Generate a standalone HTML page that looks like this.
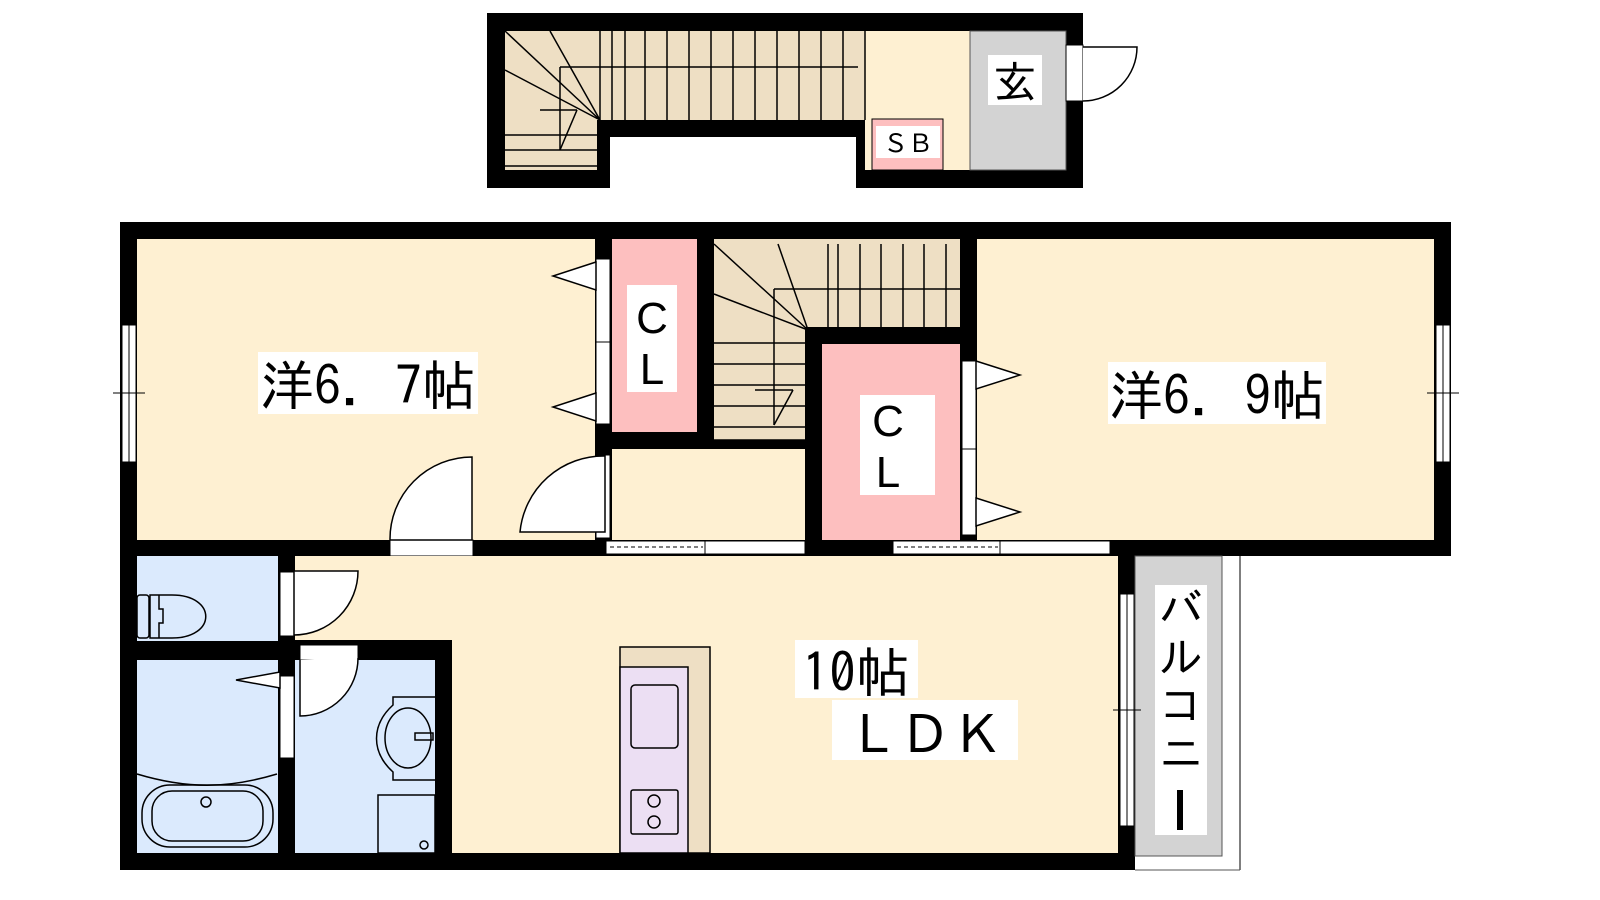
<!DOCTYPE html>
<html><head><meta charset="utf-8"><style>
html,body{margin:0;padding:0;background:#fff;width:1600px;height:900px;overflow:hidden}
svg{display:block}
text{font-family:"Liberation Sans","Noto Sans CJK JP",sans-serif;fill:#000}
.j{font-family:"IPAGothic","Noto Sans CJK JP",sans-serif}
</style></head><body>
<svg width="1600" height="900" viewBox="0 0 1600 900" xmlns="http://www.w3.org/2000/svg">
<!-- ===== TOP BLOCK ===== -->
<rect x="487" y="13" width="596" height="175" fill="#000"/>
<rect x="505" y="31" width="360" height="89" fill="#eedfc4"/>
<rect x="505" y="120" width="92" height="50" fill="#eedfc4"/>
<rect x="610" y="137" width="246" height="55" fill="#fff"/>
<rect x="865" y="31" width="105" height="139" fill="#fef0d2"/>
<rect x="872" y="119" width="71" height="51" fill="#fdbfbf" stroke="#000" stroke-width="1"/>
<rect x="970" y="31" width="96" height="139" fill="#d3d3d3" stroke="#555" stroke-width="1"/>
<g stroke="#000" stroke-width="1.5" fill="none">
<line x1="505" y1="31" x2="600" y2="120"/><line x1="550" y1="31" x2="600" y2="120"/><line x1="505" y1="70" x2="600" y2="120"/>
<line x1="560" y1="67" x2="858" y2="67"/><line x1="560" y1="67" x2="560" y2="150"/>
<line x1="540" y1="110" x2="577" y2="110"/><line x1="577" y1="110" x2="560" y2="150"/>
<line x1="505" y1="135" x2="597" y2="135"/><line x1="505" y1="150" x2="597" y2="150"/><line x1="505" y1="166" x2="597" y2="166"/>
<line x1="600" y1="31" x2="600" y2="120"/><line x1="612" y1="31" x2="612" y2="120"/>
<line x1="625" y1="31" x2="625" y2="120"/><line x1="645" y1="31" x2="645" y2="120"/><line x1="667" y1="31" x2="667" y2="120"/>
<line x1="689" y1="31" x2="689" y2="120"/><line x1="711" y1="31" x2="711" y2="120"/><line x1="733" y1="31" x2="733" y2="120"/>
<line x1="755" y1="31" x2="755" y2="120"/><line x1="777" y1="31" x2="777" y2="120"/><line x1="799" y1="31" x2="799" y2="120"/>
<line x1="821" y1="31" x2="821" y2="120"/><line x1="843" y1="31" x2="843" y2="120"/><line x1="865" y1="31" x2="865" y2="120"/>
</g>
<rect x="1066" y="45" width="17" height="56" fill="#fff" stroke="#000"/>
<path d="M1083 101 A54 54 0 0 0 1137 47 L1083 47" fill="#fff" stroke="#000" stroke-width="1.5"/>
<rect x="988" y="55" width="54" height="50" fill="#fff"/>
<text x="1015" y="98" font-size="44" text-anchor="middle" class="j">玄</text>
<rect x="876" y="126" width="64" height="32" fill="#fff"/>
<text x="908" y="152" font-size="25" text-anchor="middle">ＳＢ</text>

<!-- ===== MAIN BLOCK ===== -->
<rect x="120" y="222" width="1331" height="334" fill="#000"/>
<rect x="120" y="540" width="1015" height="330" fill="#000"/>
<rect x="137" y="239" width="458" height="301" fill="#fef0d2"/>
<rect x="612" y="239" width="85" height="193" fill="#fdbfbf"/>
<rect x="612" y="449" width="193" height="91" fill="#fef0d2"/>
<rect x="714" y="239" width="246" height="88" fill="#eedfc4"/>
<rect x="714" y="327" width="91" height="113" fill="#eedfc4"/>
<rect x="822" y="344" width="138" height="196" fill="#fdbfbf"/>
<rect x="977" y="239" width="457" height="301" fill="#fef0d2"/>
<g stroke="#000" stroke-width="1.5" fill="none">
<line x1="714" y1="244" x2="808" y2="330"/><line x1="778" y1="244" x2="808" y2="330"/><line x1="714" y1="294" x2="808" y2="330"/>
<line x1="774" y1="289" x2="966" y2="289"/><line x1="774" y1="289" x2="774" y2="425"/>
<line x1="755" y1="390" x2="793" y2="390"/><line x1="793" y1="390" x2="774" y2="425"/>
<line x1="714" y1="343" x2="805" y2="343"/><line x1="714" y1="364" x2="805" y2="364"/><line x1="714" y1="385" x2="805" y2="385"/>
<line x1="714" y1="406" x2="805" y2="406"/><line x1="714" y1="427" x2="805" y2="427"/><line x1="714" y1="440" x2="805" y2="440"/>
<line x1="828" y1="244" x2="828" y2="327"/><line x1="838" y1="244" x2="838" y2="327"/><line x1="860" y1="244" x2="860" y2="327"/>
<line x1="881" y1="244" x2="881" y2="327"/><line x1="903" y1="244" x2="903" y2="327"/><line x1="924" y1="244" x2="924" y2="327"/>
<line x1="946" y1="244" x2="946" y2="327"/>
</g>
<rect x="596" y="259" width="14" height="83" fill="#fff" stroke="#000"/>
<rect x="596" y="342" width="14" height="82" fill="#fff" stroke="#000"/>
<polygon points="596,262 553,276 596,290" fill="#fff" stroke="#000" stroke-width="1.5"/>
<polygon points="596,393 553,407 596,421" fill="#fff" stroke="#000" stroke-width="1.5"/>
<rect x="962" y="361" width="14" height="88" fill="#fff" stroke="#000"/>
<rect x="962" y="449" width="14" height="86" fill="#fff" stroke="#000"/>
<polygon points="976,361 1020,375 976,389" fill="#fff" stroke="#000" stroke-width="1.5"/>
<polygon points="976,498 1020,512 976,526" fill="#fff" stroke="#000" stroke-width="1.5"/>
<rect x="122" y="325" width="14" height="137" fill="#fff" stroke="#000"/>
<line x1="129" y1="325" x2="129" y2="462" stroke="#000"/>
<line x1="113" y1="393" x2="145" y2="393" stroke="#000"/>
<rect x="1436" y="325" width="14" height="137" fill="#fff" stroke="#000"/>
<line x1="1443" y1="325" x2="1443" y2="462" stroke="#000"/>
<line x1="1427" y1="393" x2="1459" y2="393" stroke="#000"/>
<rect x="596" y="455" width="14" height="83" fill="#fff" stroke="#000"/>
<path d="M605 456 A84 84 0 0 0 520 532 L605 532 Z" fill="#fff" stroke="#000" stroke-width="1.5"/>
<rect x="390" y="540" width="83" height="16" fill="#fff" stroke="#000"/>
<path d="M472 457 A82 82 0 0 0 390 540 L472 540 Z" fill="#fff" stroke="#000" stroke-width="1.5"/>
<rect x="606" y="541" width="99" height="13" fill="#fff" stroke="#000"/>
<line x1="610" y1="547" x2="703" y2="547" stroke="#000" stroke-dasharray="4,3"/>
<rect x="705" y="541" width="100" height="13" fill="#fff" stroke="#000"/>
<rect x="893" y="541" width="107" height="13" fill="#fff" stroke="#000"/>
<line x1="897" y1="547" x2="998" y2="547" stroke="#000" stroke-dasharray="4,3"/>
<rect x="1000" y="541" width="110" height="13" fill="#fff" stroke="#000"/>
<!-- LDK -->
<rect x="295" y="556" width="823" height="297" fill="#fef0d2"/>
<rect x="295" y="640" width="157" height="20" fill="#000"/>
<rect x="435" y="640" width="17" height="230" fill="#000"/>
<rect x="1110" y="540" width="341" height="16" fill="#000"/>
<!-- balcony -->
<rect x="1135" y="556" width="87" height="300" fill="#d3d3d3" stroke="#555"/>
<line x1="1240" y1="556" x2="1240" y2="870" stroke="#555" stroke-width="1.5"/>
<line x1="1135" y1="870" x2="1240" y2="870" stroke="#555"/>
<rect x="1120" y="594" width="14" height="232" fill="#fff" stroke="#000"/>
<line x1="1127" y1="594" x2="1127" y2="826" stroke="#000"/>
<line x1="1113" y1="710" x2="1141" y2="710" stroke="#000"/>
<rect x="1155" y="585" width="52" height="250" fill="#fff"/>
<text font-size="44" text-anchor="middle" class="j"><tspan x="1181" y="625">バ</tspan><tspan x="1181" y="673">ル</tspan><tspan x="1181" y="721">コ</tspan><tspan x="1181" y="769">ニ</tspan></text>
<rect x="1177" y="790" width="6" height="40" fill="#000"/>
<!-- toilet -->
<rect x="137" y="556" width="141" height="85" fill="#dbeafd"/>
<rect x="280" y="572" width="14" height="64" fill="#fff" stroke="#000"/>
<path d="M294 635 A64 64 0 0 0 358 571 L294 571 Z" fill="#fff" stroke="#000" stroke-width="1.5"/>
<g fill="none" stroke="#000" stroke-width="1.5">
<rect x="137" y="595" width="12" height="43" rx="3"/>
<path d="M150 595 h22 c45 0 45 43 0 43 h-22 z"/>
<path d="M159 595 v14 h4 v14 h-4 v15"/>
</g>
<!-- bath -->
<rect x="137" y="660" width="141" height="193" fill="#dbeafd"/>
<rect x="280" y="676" width="14" height="82" fill="#fff" stroke="#000"/>
<polygon points="280,672 236,680 280,688" fill="#fff" stroke="#000" stroke-width="1.5"/>
<g fill="none" stroke="#000" stroke-width="1.5">
<path d="M137 774 c50 15 90 15 140 0"/>
<rect x="142" y="785" width="131" height="62" rx="28"/>
<rect x="152" y="791" width="111" height="50" rx="20"/>
<circle cx="206" cy="802" r="5"/>
</g>
<!-- wash -->
<rect x="295" y="660" width="140" height="193" fill="#dbeafd"/>
<rect x="300" y="645" width="58" height="15" fill="#fff" stroke="#000"/>
<path d="M300 660 v56 A58 58 0 0 0 358 658" fill="#fff" stroke="#000" stroke-width="1.5"/>
<g fill="none" stroke="#000" stroke-width="1.5">
<path d="M435 697 h-42 v8 c-22 20 -22 47 0 67 v8 h42"/>
<ellipse cx="408" cy="738" rx="23" ry="30"/>
<rect x="415" y="733" width="18" height="7"/>
<rect x="378" y="795" width="57" height="58"/>
<circle cx="424" cy="845" r="4"/>
</g>
<!-- kitchen -->
<rect x="620" y="647" width="90" height="206" fill="#eedfc4" stroke="#000" stroke-width="1.5"/>
<rect x="620" y="667" width="68" height="186" fill="#ecdff3" stroke="#000" stroke-width="1.5"/>
<g fill="none" stroke="#000" stroke-width="1.5">
<rect x="631" y="685" width="47" height="63" rx="4"/>
<rect x="631" y="790" width="47" height="44" rx="2"/>
<circle cx="654" cy="801" r="6"/><circle cx="654" cy="822" r="6"/>
</g>
<!-- labels -->
<rect x="258" y="352" width="220" height="62" fill="#fff"/>
<text x="368" y="405" font-size="54" text-anchor="middle" class="j">洋6．7帖</text>
<rect x="1108" y="362" width="218" height="62" fill="#fff"/>
<text x="1217" y="415" font-size="54" text-anchor="middle" class="j">洋6．9帖</text>
<rect x="627" y="285" width="50" height="107" fill="#fff"/>
<text x="652" y="333" font-size="44" text-anchor="middle">C</text>
<text x="652" y="384" font-size="44" text-anchor="middle">L</text>
<rect x="860" y="395" width="75" height="100" fill="#fff"/>
<text x="888" y="436" font-size="44" text-anchor="middle">C</text>
<text x="888" y="487" font-size="44" text-anchor="middle">L</text>
<rect x="795" y="640" width="123" height="58" fill="#fff"/>
<text x="856" y="692" font-size="54" text-anchor="middle" class="j">10帖</text>
<rect x="832" y="700" width="186" height="60" fill="#fff"/>
<text x="925" y="752" font-size="52" text-anchor="middle">ＬＤＫ</text>
</svg>
</body></html>
